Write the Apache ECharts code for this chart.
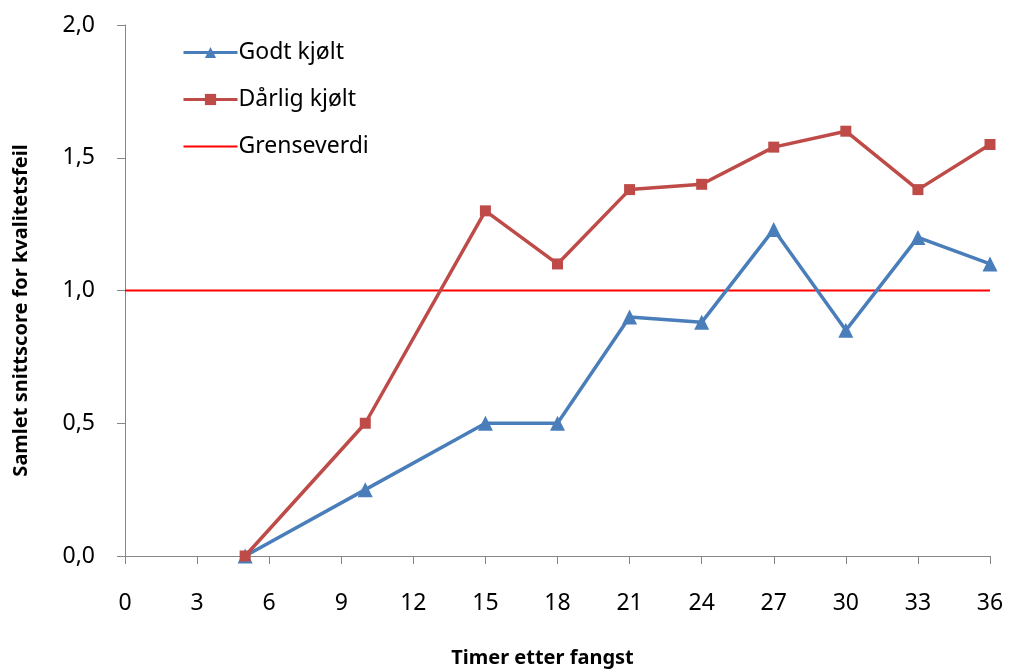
<!DOCTYPE html>
<html>
<head>
<meta charset="utf-8">
<script src="https://cdn.jsdelivr.net/npm/echarts@6/dist/echarts.min.js"></script>
<style>
  html, body { margin: 0; padding: 0; background: #fff; }
  #main { width: 1009px; height: 670px; }
</style>
</head>
<body>
<div id="main"></div>
<script>
  // timer etter fangst
  var hours = [5, 10, 15, 18, 21, 24, 27, 30, 33, 36]
  var godtKjolt = [0, 0.25, 0.5, 0.5, 0.9, 0.88, 1.23, 0.85, 1.2, 1.1]
  var darligKjolt = [0, 0.5, 1.3, 1.1, 1.38, 1.4, 1.54, 1.6, 1.38, 1.55]
  var grenseX = [0, 36]
  var grenseY = [1, 1]

  function pairs(xs, ys) {
    return xs.map(function (x, i) { return [x, ys[i]] })
  }

  var fontFam = 'Noto Sans, sans-serif'
  var axisGray = '#868686'

  var myChart = echarts.init(document.getElementById('main'))
  myChart.setOption({
    animation: false,
    textStyle: { fontFamily: fontFam },
    grid: { left: 125, right: 19, top: 25, bottom: 114, outerBoundsMode: 'none', containLabel: false },
    legend: {
      orient: 'vertical',
      left: 177,
      top: 36,
      itemWidth: 54,
      itemHeight: 14,
      itemGap: 24,
      textStyle: { fontSize: 23, color: '#000', fontFamily: fontFam, padding: [0, 0, 0, -4] },
      data: [
        { name: 'Godt kjølt', lineStyle: { width: 3 } },
        { name: 'Dårlig kjølt', lineStyle: { width: 3 } },
        { name: 'Grenseverdi', itemStyle: { opacity: 0 }, lineStyle: { width: 2 } }
      ]
    },
    xAxis: {
      type: 'value',
      min: 0,
      max: 36,
      interval: 3,
      name: 'Timer etter fangst',
      nameLocation: 'middle',
      nameGap: 92,
      nameTextStyle: { fontSize: 20, fontWeight: 'bold', color: '#000', padding: [0, 30, 0, 0] },
      axisLine: { lineStyle: { color: axisGray, width: 1 } },
      axisTick: { show: true, length: 8, lineStyle: { color: axisGray } },
      axisLabel: { fontSize: 23, color: '#000', margin: 36 },
      splitLine: { show: false }
    },
    yAxis: {
      type: 'value',
      min: 0,
      max: 2,
      interval: 0.5,
      name: 'Samlet snittscore for kvalitetsfeil',
      nameLocation: 'middle',
      nameGap: 94,
      nameTextStyle: { fontSize: 20, fontWeight: 'bold', color: '#000', padding: [0, 40, 0, 0] },
      axisLine: { show: true, lineStyle: { color: axisGray, width: 1 } },
      axisTick: { show: true, length: 8, lineStyle: { color: axisGray } },
      axisLabel: {
        fontSize: 23, color: '#000', margin: 30,
        formatter: function (v) { return v.toFixed(1).replace('.', ',') }
      },
      splitLine: { show: false }
    },
    series: [
      {
        name: 'Godt kjølt',
        type: 'line',
        data: pairs(hours, godtKjolt),
        symbol: 'triangle',
        symbolSize: 15,
        itemStyle: { color: '#4A7EBB' },
        lineStyle: { color: '#4A7EBB', width: 3.5 },
        z: 3
      },
      {
        name: 'Dårlig kjølt',
        type: 'line',
        data: pairs(hours, darligKjolt),
        symbol: 'rect',
        symbolSize: 11,
        itemStyle: { color: '#BE4B48' },
        lineStyle: { color: '#BE4B48', width: 3.5 },
        z: 4
      },
      {
        name: 'Grenseverdi',
        type: 'line',
        data: pairs(grenseX, grenseY),
        symbol: 'none',
        itemStyle: { color: '#FF0000' },
        lineStyle: { color: '#FF0000', width: 2 },
        z: 2
      }
    ]
  })
</script>
</body>
</html>
